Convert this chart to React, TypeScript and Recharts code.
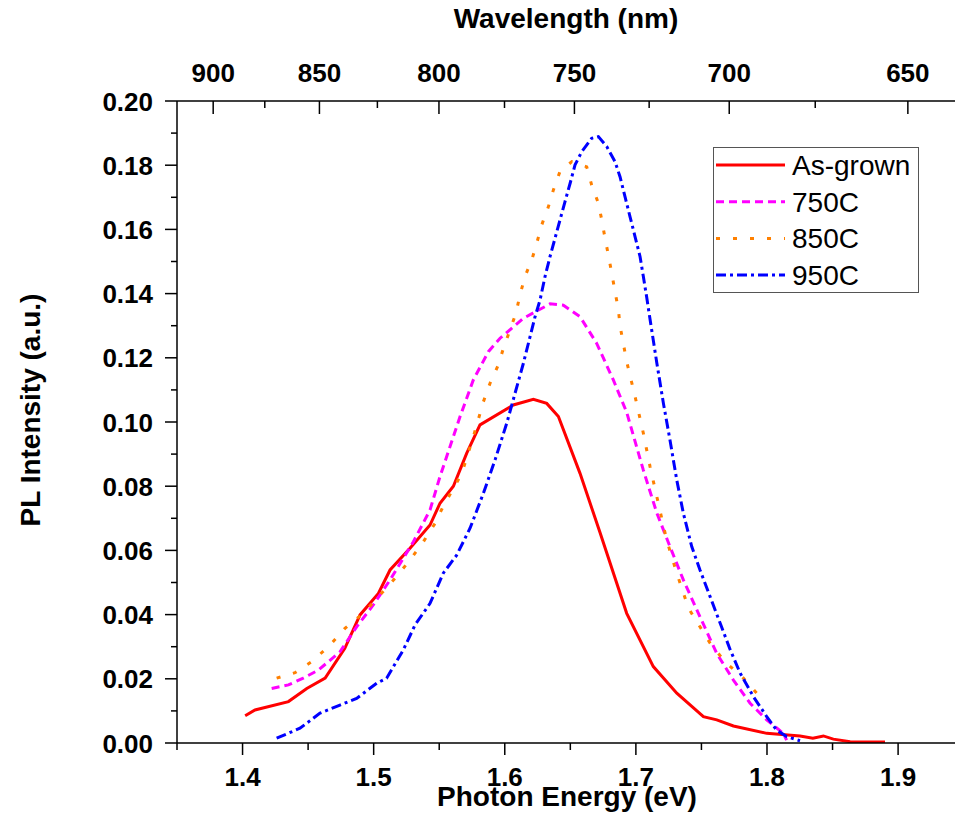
import React from 'react';
import { LineChart, Line, XAxis, YAxis, Legend } from 'recharts';

const FONT = "'Liberation Sans', Arial, Helvetica, sans-serif";

// ---- Data (photon energy in eV, PL intensity in a.u.) ----
const asGrownE = [1.402, 1.4095, 1.435, 1.449, 1.463, 1.478, 1.4896, 1.5036, 1.5125, 1.5277, 1.543, 1.5506, 1.5608, 1.571, 1.5811, 1.6065, 1.6218, 1.632, 1.6409, 1.6574, 1.6727, 1.693, 1.7133, 1.7312, 1.7515, 1.7617, 1.7744, 1.7998, 1.8252, 1.835, 1.843, 1.8506, 1.8634, 1.89];
const asGrownI = [0.0085, 0.0103, 0.0129, 0.017, 0.0202, 0.0295, 0.0399, 0.0466, 0.0539, 0.0607, 0.0679, 0.0747, 0.08, 0.0903, 0.0991, 0.1053, 0.1071, 0.1058, 0.1017, 0.084, 0.0655, 0.0404, 0.0238, 0.0155, 0.0082, 0.0072, 0.0053, 0.003, 0.0022, 0.0015, 0.0022, 0.0012, 0.0004, 0.0003];

const c750E = [1.4222, 1.435, 1.4463, 1.4578, 1.4743, 1.487, 1.4997, 1.5125, 1.5303, 1.543, 1.5506, 1.5659, 1.576, 1.5875, 1.5964, 1.6142, 1.6345, 1.6447, 1.6574, 1.6701, 1.6828, 1.693, 1.7057, 1.716, 1.726, 1.7362, 1.7489, 1.7617, 1.7744, 1.7871, 1.7998, 1.8125, 1.815];
const c750I = [0.017, 0.0181, 0.0202, 0.0227, 0.0284, 0.0362, 0.043, 0.0508, 0.0627, 0.0726, 0.083, 0.1017, 0.1131, 0.1219, 0.1261, 0.1323, 0.1368, 0.1364, 0.1328, 0.1245, 0.1131, 0.103, 0.085, 0.0716, 0.0612, 0.0508, 0.0393, 0.0279, 0.0196, 0.0124, 0.0072, 0.003, 0.0009];

const c850E = [1.426, 1.44, 1.4527, 1.4667, 1.4781, 1.4921, 1.5048, 1.5163, 1.5277, 1.5379, 1.5468, 1.5531, 1.5608, 1.5672, 1.576, 1.5837, 1.5887, 1.5951, 1.599, 1.604, 1.6086, 1.6116, 1.6154, 1.6206, 1.6244, 1.6282, 1.6333, 1.6371, 1.6421, 1.6511, 1.6625, 1.6663, 1.6714, 1.674, 1.6765, 1.679, 1.6816, 1.6841, 1.6867, 1.6879, 1.693, 1.6994, 1.7057, 1.7108, 1.7171, 1.7235, 1.7312, 1.7401, 1.7489, 1.7566, 1.768, 1.782, 1.7947];
const c850I = [0.0202, 0.0219, 0.0253, 0.0305, 0.0357, 0.0404, 0.0461, 0.0513, 0.057, 0.0627, 0.0684, 0.0738, 0.0793, 0.084, 0.0954, 0.1063, 0.112, 0.1178, 0.123, 0.1287, 0.134, 0.1396, 0.1453, 0.1505, 0.1557, 0.1614, 0.1671, 0.1723, 0.178, 0.1811, 0.1795, 0.1738, 0.1681, 0.1629, 0.1572, 0.152, 0.1463, 0.1406, 0.1349, 0.13, 0.1188, 0.1079, 0.0965, 0.0861, 0.0747, 0.0632, 0.0529, 0.042, 0.0362, 0.0311, 0.0253, 0.0202, 0.0144];

const c950E = [1.426, 1.4438, 1.4591, 1.4743, 1.487, 1.5023, 1.5099, 1.5226, 1.5316, 1.543, 1.5531, 1.5633, 1.5735, 1.5837, 1.5926, 1.6015, 1.6078, 1.6142, 1.6193, 1.6231, 1.6269, 1.6307, 1.6345, 1.6383, 1.6421, 1.6459, 1.6498, 1.6536, 1.6587, 1.6663, 1.6714, 1.6778, 1.6841, 1.6879, 1.6917, 1.6955, 1.6994, 1.7032, 1.7057, 1.7082, 1.7108, 1.716, 1.721, 1.726, 1.7312, 1.7362, 1.7426, 1.7489, 1.7566, 1.7643, 1.772, 1.7796, 1.7897, 1.7998, 1.8074, 1.815, 1.8252];
const c950I = [0.0015, 0.0046, 0.0093, 0.0118, 0.0139, 0.0186, 0.0202, 0.029, 0.0368, 0.0435, 0.0529, 0.0585, 0.0669, 0.0778, 0.0882, 0.0996, 0.1089, 0.1183, 0.1266, 0.1328, 0.138, 0.1453, 0.1515, 0.1572, 0.1629, 0.1686, 0.1743, 0.1801, 0.1842, 0.1884, 0.1889, 0.1858, 0.1811, 0.1764, 0.1702, 0.164, 0.1577, 0.1515, 0.1453, 0.139, 0.132, 0.1183, 0.1058, 0.0944, 0.0819, 0.0716, 0.0612, 0.0539, 0.0456, 0.0373, 0.029, 0.0217, 0.0144, 0.0082, 0.004, 0.002, 0.0007];

// ---- Ticks ----
const X_DOMAIN = [1.35, 1.9434];
const X_MAJOR = [1.4, 1.5, 1.6, 1.7, 1.8, 1.9];
const X_MINOR = [1.35, 1.45, 1.55, 1.65, 1.75, 1.85];
const Y_MAJOR = [0, 0.02, 0.04, 0.06, 0.08, 0.1, 0.12, 0.14, 0.16, 0.18, 0.2];
const Y_MINOR = [0.01, 0.03, 0.05, 0.07, 0.09, 0.11, 0.13, 0.15, 0.17, 0.19];
const WL_MAJOR = [900, 850, 800, 750, 700, 650];
const WL_MINOR = [875, 825, 775, 725, 675];
const HC = 1239.84;

const SERIES_NAMES = ['As-grown', '750C', '850C', '950C'];
const SERIES_COLORS = ['#FF0000', '#FF00FF', '#FF8000', '#0000FF'];
const SERIES_DASH = [undefined, '8 5', '4 13', '10 4 3 4'];

const toRows = (es: number[], is: number[]) => es.map((e, k) => ({ e, i: is[k] }));
const SERIES_DATA = [toRows(asGrownE, asGrownI), toRows(c750E, c750I), toRows(c850E, c850I), toRows(c950E, c950I)];

const isIn = (arr: number[], v: number) => arr.some((a) => Math.abs(a - v) < 1e-6);

const xTicks = [...X_MINOR, ...X_MAJOR].sort((a, b) => a - b);
const yTicks = [...Y_MINOR, ...Y_MAJOR].sort((a, b) => a - b);
const topTicks = [...WL_MAJOR, ...WL_MINOR].map((w) => HC / w).sort((a, b) => a - b);
const topMajorE = WL_MAJOR.map((w) => HC / w);

const BottomTick = (props: any) => {
  const { x, y, payload } = props;
  const v = payload.value;
  const major = isIn(X_MAJOR, v);
  return (
    <g>
      <line x1={x} x2={x} y1={y} y2={y + (major ? 12 : 7)} stroke="#000" strokeWidth={1.5} />
      {major && (
        <text x={x} y={y + 43} textAnchor="middle" fontSize={26} fontWeight="bold" fontFamily={FONT} fill="#000">
          {v.toFixed(1)}
        </text>
      )}
    </g>
  );
};

const TopTick = (props: any) => {
  const { x, y, payload } = props;
  const v = payload.value;
  const major = isIn(topMajorE, v);
  return (
    <g>
      <line x1={x} x2={x} y1={y} y2={y + (major ? 13 : 7)} stroke="#000" strokeWidth={1.5} />
      {major && (
        <text x={x} y={y - 19} textAnchor="middle" fontSize={26} fontWeight="bold" fontFamily={FONT} fill="#000">
          {Math.round(HC / v)}
        </text>
      )}
    </g>
  );
};

const LeftTick = (props: any) => {
  const { x, y, payload } = props;
  const v = payload.value;
  const major = isIn(Y_MAJOR, v);
  return (
    <g>
      <line x1={x - (major ? 12 : 6)} x2={x} y1={y} y2={y} stroke="#000" strokeWidth={1.5} />
      {major && (
        <text x={x - 24} y={y + 9.5} textAnchor="end" fontSize={26} fontWeight="bold" fontFamily={FONT} fill="#000">
          {v.toFixed(2)}
        </text>
      )}
    </g>
  );
};

const BottomTitle = (props: any) => {
  const vb = props.viewBox || {};
  return (
    <text x={vb.x + vb.width / 2 + 1} y={vb.y + 63} textAnchor="middle" fontSize={28} fontWeight="bold" fontFamily={FONT} fill="#000">
      Photon Energy (eV)
    </text>
  );
};

const TopTitle = (props: any) => {
  const vb = props.viewBox || {};
  return (
    <text x={vb.x + vb.width / 2} y={vb.y - 33} textAnchor="middle" fontSize={28} fontWeight="bold" fontFamily={FONT} fill="#000">
      Wavelength (nm)
    </text>
  );
};

const LeftTitle = (props: any) => {
  const vb = props.viewBox || {};
  const cx = vb.x - 77;
  const cy = vb.y + vb.height / 2 - 12;
  return (
    <text x={cx} y={cy} transform={`rotate(-90, ${cx}, ${cy})`} textAnchor="middle" fontSize={28} fontWeight="bold" fontFamily={FONT} fill="#000">
      PL Intensity (a.u.)
    </text>
  );
};

const LegendBox = () => (
  <svg width={206} height={146} style={{ display: 'block' }}>
    <rect x={0.5} y={0.5} width={205} height={145} fill="#fff" stroke="#555" strokeWidth={1} />
    {SERIES_NAMES.map((name, k) => {
      const ry = 18 + k * 36.7;
      return (
        <g key={name}>
          <line x1={3} x2={72} y1={ry} y2={ry} stroke={SERIES_COLORS[k]} strokeWidth={3} strokeDasharray={SERIES_DASH[k]} />
          <text x={79} y={ry + 10} fontSize={28} fontFamily={FONT} fill="#000">
            {name}
          </text>
        </g>
      );
    })}
  </svg>
);

export default function App() {
  return (
    <div style={{ position: 'absolute', left: 0, top: 0, background: '#fff' }}>
      <LineChart width={955} height={814} margin={{ top: 61, right: 0, bottom: 31, left: 117 }}>
        <XAxis
          xAxisId="bottom"
          dataKey="e"
          type="number"
          domain={X_DOMAIN}
          allowDataOverflow
          ticks={xTicks}
          interval={0}
          tickSize={0}
          tickMargin={0}
          tickLine={false}
          tick={<BottomTick />}
          axisLine={{ stroke: '#000', strokeWidth: 1.5 }}
          height={40}
          label={<BottomTitle />}
        />
        <XAxis
          xAxisId="top"
          orientation="top"
          dataKey="e"
          type="number"
          domain={X_DOMAIN}
          allowDataOverflow
          ticks={topTicks}
          interval={0}
          tickSize={0}
          tickMargin={0}
          tickLine={false}
          tick={<TopTick />}
          axisLine={{ stroke: '#000', strokeWidth: 1.5 }}
          height={40}
          label={<TopTitle />}
        />
        <YAxis
          yAxisId="left"
          type="number"
          domain={[0, 0.2]}
          allowDataOverflow
          ticks={yTicks}
          interval={0}
          tickSize={0}
          tickMargin={0}
          tickLine={false}
          tick={<LeftTick />}
          axisLine={{ stroke: '#000', strokeWidth: 1.5 }}
          width={60}
          label={<LeftTitle />}
        />
        {SERIES_DATA.map((rows, k) => (
          <Line
            key={SERIES_NAMES[k]}
            name={SERIES_NAMES[k]}
            xAxisId="bottom"
            yAxisId="left"
            data={rows}
            dataKey="i"
            type="linear"
            stroke={SERIES_COLORS[k]}
            strokeWidth={3}
            strokeDasharray={SERIES_DASH[k]}
            dot={false}
            activeDot={false}
            isAnimationActive={false}
          />
        ))}
        <Legend
          layout="vertical"
          align="center"
          verticalAlign="middle"
          content={<LegendBox />}
          wrapperStyle={{ left: 713, top: 147, width: 206, height: 146 }}
        />
      </LineChart>
    </div>
  );
}
